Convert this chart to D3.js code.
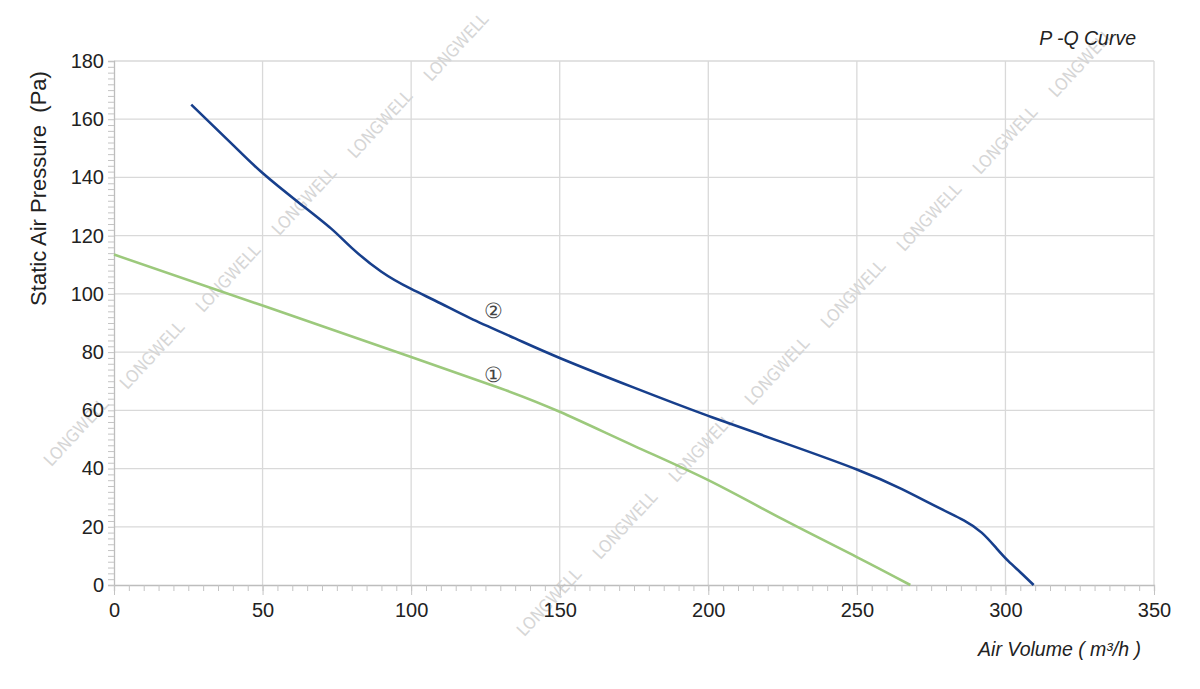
<!DOCTYPE html>
<html><head><meta charset="utf-8">
<script src="https://cdn.jsdelivr.net/npm/d3@7"></script>
<style>body{margin:0;background:#fff}svg{display:block}</style>
</head><body><svg id="c" width="1200" height="689"></svg>
<script>
// ---- data ----
const curve1X = [0, 50, 100, 130, 150, 175, 200, 225, 250, 268];
const curve1Y = [113.5, 96, 78.3, 67.6, 59.5, 47.8, 36, 22.6, 9.6, 0];
const curve2X = [26, 40, 50, 62, 73, 80, 90, 100, 110, 120, 135, 150, 175, 200, 225, 250, 265, 278, 286, 292, 297, 301, 305, 309.5];
const curve2Y = [165, 151.2, 141.5, 131.5, 122.5, 115.8, 107.6, 101.7, 96.7, 91.6, 84.7, 78, 67.8, 58.1, 49, 39.7, 33, 26.3, 22.2, 18, 12.6, 8.2, 4.4, 0];
const xTicks = [0, 50, 100, 150, 200, 250, 300, 350];
const yTicks = [0, 20, 40, 60, 80, 100, 120, 140, 160, 180];
const curveLabels = ["①", "②"];
const labelX = [127.6, 127.6];
const labelY = [72.1, 94.1];
const title = "P -Q Curve";
const xTitle = "Air Volume ( m³/h )";
const yTitle = "Static Air Pressure\u00a0\u00a0(Pa)";
const watermark = "LONGWELL";

// ---- layout ----
const svg = d3.select("#c");
const L = 114, R = 1154, T = 61, B = 585;
const x = d3.scaleLinear().domain([0, 350]).range([L, R]);
const y = d3.scaleLinear().domain([0, 180]).range([B, T]);
const font = "Liberation Sans, Arial, sans-serif";

// grid
const g = svg.append("g");
g.selectAll(".gx").data(xTicks.slice(1)).join("line")
  .attr("x1", d => x(d)).attr("x2", d => x(d)).attr("y1", T).attr("y2", B)
  .attr("stroke", "#d9d9d9").attr("stroke-width", 1.3);
g.selectAll(".gy").data(yTicks.slice(1)).join("line")
  .attr("x1", L).attr("x2", R).attr("y1", d => y(d)).attr("y2", d => y(d))
  .attr("stroke", "#d9d9d9").attr("stroke-width", 1.3);

// watermark (decorative)
const wm = svg.append("g").attr("fill", "#d6d6d6")
  .style("font-family", "'Liberation Sans Narrow', 'DejaVu Sans Condensed', sans-serif")
  .style("font-size", "17px");
const lineStarts = [[228, 278], [625, 525], [1022, 772]];
lineStarts.forEach(s => {
  for (let k = -4; k <= 9; k++) {
    const cx = s[0] + k * 76, cy = s[1] - k * 77;
    if (cx < 40 || cx > 1160 || cy < 40 || cy > 648) continue;
    wm.append("text").attr("transform", `translate(${cx},${cy}) rotate(-47)`)
      .attr("text-anchor", "middle").attr("dy", "0.35em").text(watermark);
  }
});

// axes
const xAxis = svg.append("g").attr("transform", `translate(0,${B})`)
  .call(d3.axisBottom(x).tickValues(d3.range(0, 351, 5)).tickSize(6).tickFormat(""));
const yAxis = svg.append("g").attr("transform", `translate(${L},0)`)
  .call(d3.axisLeft(y).tickValues(d3.range(0, 181, 2)).tickSize(6).tickFormat(""));
[xAxis, yAxis].forEach(a => {
  a.select(".domain").attr("stroke", "#bdbdbd").attr("stroke-width", 1.3);
  a.selectAll(".tick line").attr("stroke", "#c4c4c4").attr("stroke-width", 1);
});
svg.append("g").attr("transform", `translate(0,${B})`)
  .call(d3.axisBottom(x).tickValues(xTicks).tickSize(10).tickPadding(8))
  .call(a => { a.select(".domain").remove();
    a.selectAll(".tick line").attr("stroke", "#c4c4c4");
    a.selectAll("text").attr("fill", "#222").style("font-size", "20px").style("font-family", font); });
svg.append("g").attr("transform", `translate(${L},0)`)
  .call(d3.axisLeft(y).tickValues(yTicks).tickSize(0).tickPadding(10))
  .call(a => { a.select(".domain").remove();
    a.selectAll("text").attr("fill", "#222").style("font-size", "20px").style("font-family", font); });

// curves
const line = d3.line().x(d => x(d[0])).y(d => y(d[1])).curve(d3.curveNatural);
svg.append("path").datum(curve1X.map((v, i) => [v, curve1Y[i]]))
  .attr("d", line).attr("fill", "none").attr("stroke", "#9cc97c").attr("stroke-width", 2.6);
svg.append("path").datum(curve2X.map((v, i) => [v, curve2Y[i]]))
  .attr("d", line).attr("fill", "none").attr("stroke", "#173f8c").attr("stroke-width", 2.6);

// curve labels
svg.selectAll(".cl").data(curveLabels).join("text")
  .attr("x", (d, i) => x(labelX[i])).attr("y", (d, i) => y(labelY[i]))
  .attr("text-anchor", "middle").attr("dy", "0.35em")
  .style("font-family", "'DejaVu Serif', serif").style("font-size", "21px").attr("fill", "#444")
  .text(d => d);

// titles
svg.append("text").attr("x", 1136).attr("y", 45).attr("text-anchor", "end")
  .style("font-family", font).style("font-style", "italic").style("font-size", "19.5px").attr("fill", "#222").text(title);
svg.append("text").attr("x", 1141).attr("y", 656).attr("text-anchor", "end")
  .style("font-family", font).style("font-style", "italic").style("font-size", "19.5px").attr("fill", "#222").text(xTitle);
svg.append("text").attr("transform", `translate(46,${(62 + 315) / 2}) rotate(-90)`)
  .attr("text-anchor", "middle")
  .style("font-family", font).style("font-size", "22px").attr("fill", "#222").text(yTitle);
</script></body></html>
